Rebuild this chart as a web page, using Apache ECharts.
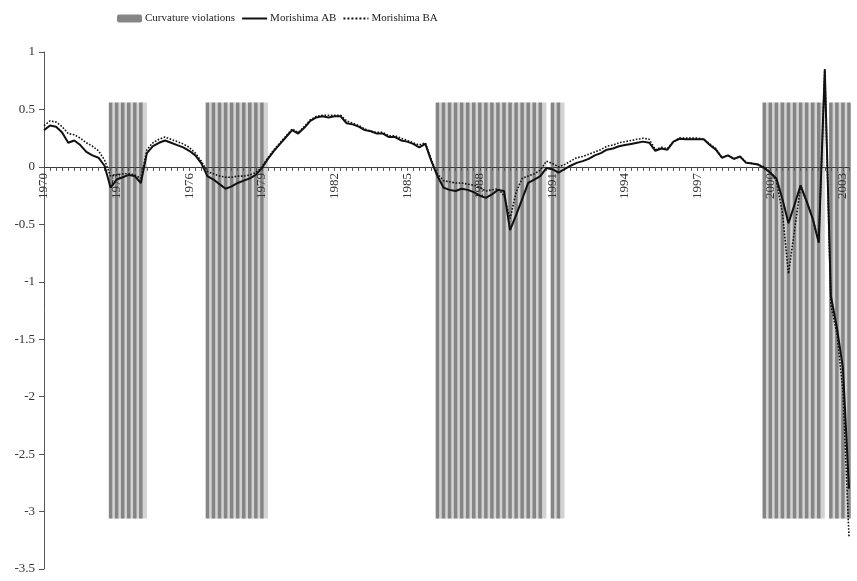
<!DOCTYPE html>
<html>
<head>
<meta charset="utf-8">
<script src="https://cdn.jsdelivr.net/npm/echarts@6/dist/echarts.min.js"></script>
<style>
  html, body { margin: 0; padding: 0; background: #fff; }
  #chart { width: 857px; height: 581px; }
</style>
</head>
<body>
<div id="chart"></div>
<script>
// Quarterly categories, 1970Q1 .. 2003Q2
const firstYear = 1970;
const lastYear = 2003;
const lastQuarter = 2;
const quarters = [];
for (let y = firstYear; y <= lastYear; y++) {
  for (let q = 1; q <= 4; q++) {
    if (y === lastYear && q > lastQuarter) break;
    quarters.push(y + 'Q' + q);
  }
}

// Years printed under the zero line
const tickYears = ['1970', '1973', '1976', '1979', '1982', '1985', '1988', '1991', '1994', '1997', '2000', '2003'];

// Morishima elasticity, AB ordering
const morishimaAB = [
  0.32, 0.36, 0.35, 0.30, 0.21, 0.23, 0.19, 0.13, 0.10, 0.08,
  0.01, -0.18, -0.11, -0.09, -0.07, -0.08, -0.14, 0.12, 0.18, 0.21,
  0.23, 0.21, 0.19, 0.17, 0.14, 0.10, 0.03, -0.08, -0.11, -0.15,
  -0.19, -0.17, -0.14, -0.12, -0.10, -0.07, -0.01, 0.07, 0.14, 0.20,
  0.26, 0.32, 0.29, 0.34, 0.40, 0.43, 0.44, 0.43, 0.44, 0.44,
  0.38, 0.37, 0.35, 0.32, 0.31, 0.29, 0.29, 0.26, 0.26, 0.23,
  0.22, 0.20, 0.17, 0.20, 0.05, -0.08, -0.18, -0.20, -0.21, -0.19,
  -0.20, -0.22, -0.25, -0.27, -0.24, -0.20, -0.21, -0.55, -0.42, -0.28,
  -0.14, -0.11, -0.08, -0.01, -0.02, -0.05, -0.02, 0.01, 0.035, 0.05,
  0.07, 0.10, 0.12, 0.15, 0.16, 0.18, 0.19, 0.20, 0.21, 0.22,
  0.21, 0.14, 0.16, 0.15, 0.22, 0.245, 0.24, 0.24, 0.24, 0.24,
  0.19, 0.15, 0.08, 0.10, 0.07, 0.09, 0.035, 0.03, 0.02, -0.01,
  -0.05, -0.10, -0.28, -0.49, -0.33, -0.16, -0.30, -0.45, -0.66, 0.85,
  -1.12, -1.40, -1.75, -2.80
];

// Morishima elasticity, BA ordering
const morishimaBA = [
  0.36, 0.40, 0.39, 0.35, 0.29, 0.28, 0.25, 0.21, 0.18, 0.14,
  0.06, -0.08, -0.07, -0.06, -0.06, -0.07, -0.10, 0.15, 0.21, 0.24,
  0.26, 0.24, 0.22, 0.20, 0.17, 0.12, 0.05, -0.04, -0.06, -0.08,
  -0.09, -0.09, -0.08, -0.08, -0.07, -0.05, 0.00, 0.08, 0.15, 0.21,
  0.27, 0.33, 0.30, 0.35, 0.41, 0.44, 0.45, 0.45, 0.45, 0.45,
  0.40, 0.38, 0.36, 0.33, 0.31, 0.30, 0.30, 0.27, 0.27, 0.25,
  0.23, 0.21, 0.19, 0.21, 0.06, -0.06, -0.12, -0.13, -0.14, -0.14,
  -0.15, -0.16, -0.18, -0.21, -0.20, -0.19, -0.25, -0.45, -0.22, -0.10,
  -0.08, -0.06, -0.03, 0.05, 0.03, 0.00, 0.02, 0.05, 0.08, 0.09,
  0.11, 0.13, 0.15, 0.18, 0.19, 0.21, 0.22, 0.23, 0.24, 0.25,
  0.24, 0.15, 0.17, 0.16, 0.22, 0.25, 0.25, 0.25, 0.25, 0.24,
  0.20, 0.16, 0.08, 0.10, 0.07, 0.09, 0.04, 0.03, 0.02, 0.00,
  -0.05, -0.12, -0.40, -0.93, -0.55, -0.17, -0.30, -0.45, -0.65, 0.85,
  -1.20, -1.45, -1.95, -3.22
];

// Quarters in which curvature is violated (inclusive ranges)
const violationRanges = [
  ['1972Q4', '1974Q1'],
  ['1976Q4', '1979Q1'],
  ['1986Q2', '1990Q3'],
  ['1991Q1', '1991Q2'],
  ['1999Q4', '2002Q1'],
  ['2002Q3', '2003Q2']
];
const violationTop = 0.56;
const violationBottom = -3.06;

const inViolation = quarters.map(() => false);
violationRanges.forEach(([a, b]) => {
  for (let i = quarters.indexOf(a); i <= quarters.indexOf(b); i++) inViolation[i] = true;
});
const upperBars = inViolation.map(v => v ? violationTop : '-');
const lowerBars = inViolation.map(v => v ? violationBottom : '-');
const shadeAreas = violationRanges.map(([a, b]) => [
  { xAxis: a, yAxis: violationTop },
  { xAxis: b, yAxis: violationBottom }
]);

const yMin = -3.5;
const yMax = 1;
const serif = 'Liberation Serif, Times New Roman, serif';
const chart = echarts.init(document.getElementById('chart'), null, { renderer: 'canvas' });

chart.setOption({
  animation: false,
  backgroundColor: '#fff',
  legend: {
    data: [
      { name: 'Curvature violations' },
      { name: 'Morishima AB', itemStyle: { opacity: 0 } },
      { name: 'Morishima BA', itemStyle: { opacity: 0 } }
    ],
    left: 112,
    top: 8,
    itemWidth: 25,
    itemHeight: 8,
    itemGap: 6,
    textStyle: { fontFamily: serif, fontSize: 11, color: '#222', padding: [0, 0, 0, -2] }
  },
  grid: { left: 44, right: 8, top: 52, bottom: 12, containLabel: false, outerBoundsMode: 'none' },
  xAxis: {
    type: 'category',
    data: quarters,
    boundaryGap: false,
    position: 'bottom',
    z: 3,
    axisLine: { onZero: false, lineStyle: { color: '#3a3a3a', width: 1 } },
    axisTick: { show: true, interval: 0, length: 4, lineStyle: { color: '#555' } },
    axisLabel: {
      interval: (idx, val) => val.endsWith('Q1') && tickYears.includes(val.slice(0, 4)),
      formatter: val => val.slice(0, 4),
      rotate: 90,
      margin: 6,
      fontFamily: serif,
      fontSize: 13,
      color: '#333'
    },
    splitLine: { show: false }
  },
  yAxis: {
    type: 'value',
    min: yMin,
    max: yMax,
    interval: 0.5,
    axisLine: { show: true, lineStyle: { color: '#555' } },
    axisTick: { show: true, length: 5, lineStyle: { color: '#555' } },
    axisLabel: { margin: 9, fontFamily: serif, fontSize: 13, color: '#333' },
    splitLine: { show: false }
  },
  series: [
    {
      name: 'Curvature violations',
      type: 'bar',
      stack: 'cv',
      data: upperBars,
      barWidth: 3.5,
      z: 2,
      itemStyle: { color: '#858585' },
      markArea: {
        silent: true,
        itemStyle: { color: '#d3d3d3' },
        data: shadeAreas
      }
    },
    {
      name: 'Curvature violations',
      type: 'bar',
      stack: 'cv',
      data: lowerBars,
      barWidth: 3.5,
      z: 2,
      itemStyle: { color: '#858585' }
    },
    {
      name: 'Morishima AB',
      type: 'line',
      data: morishimaAB,
      symbol: 'none',
      z: 5,
      lineStyle: { color: '#111', width: 2 },
      itemStyle: { color: '#111' }
    },
    {
      name: 'Morishima BA',
      type: 'line',
      data: morishimaBA,
      symbol: 'none',
      z: 4,
      lineStyle: { color: '#111', width: 1.6, type: 'dotted' },
      itemStyle: { color: '#111' }
    }
  ]
});

// Lift the category axis (line, ticks and year labels) up to the zero level
const zeroY = chart.convertToPixel({ yAxisIndex: 0 }, 0);
const bottomY = chart.convertToPixel({ yAxisIndex: 0 }, yMin);
chart.setOption({ xAxis: { offset: -(bottomY - zeroY) } });
</script>
</body>
</html>
